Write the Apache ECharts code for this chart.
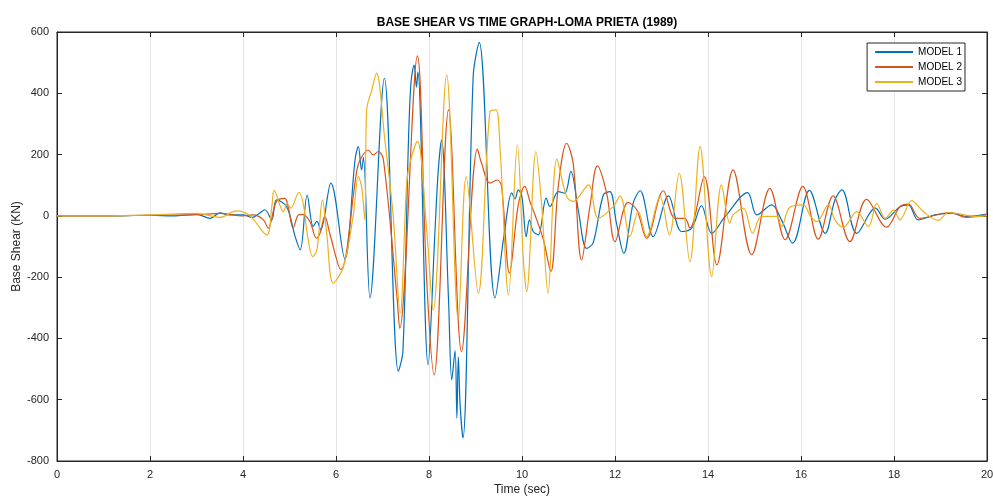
<!DOCTYPE html>
<html>
<head>
<meta charset="utf-8">
<script src="https://cdn.jsdelivr.net/npm/echarts@6/dist/echarts.min.js"></script>
<style>
  html, body { margin: 0; padding: 0; background: #fff; }
  #chart { width: 993px; height: 500px; }
</style>
</head>
<body>
<div id="chart"></div>
<script>
var seriesNames = ['MODEL 1', 'MODEL 2', 'MODEL 3'];
var xTicks = [0, 2, 4, 6, 8, 10, 12, 14, 16, 18, 20];
var yTicks = [-800, -600, -400, -200, 0, 200, 400, 600];

// MODEL 1 - time (sec) / base shear (KN)
var m1Time = [0, 1, 2, 2.5, 3, 3.3, 3.5, 3.7, 4.0, 4.2, 4.35, 4.47, 4.62, 4.72, 4.94, 5.12, 5.23, 5.38, 5.51, 5.59, 5.67, 5.89,
  6.19, 6.41, 6.48, 6.55, 6.59, 6.73, 7.04, 7.34, 7.44, 7.55, 7.61, 7.68, 7.73, 7.76, 7.98, 8.13, 8.2, 8.27,
  8.42, 8.49, 8.56, 8.6, 8.63, 8.67, 8.73, 8.95, 9.08, 9.42, 9.63, 9.78, 9.85, 9.92, 10.0,
  10.09, 10.16, 10.24, 10.35, 10.52, 10.6, 10.78, 10.92, 11.05, 11.21, 11.39, 11.53, 11.75, 11.89,
  12.03, 12.19, 12.39, 12.54, 12.82, 13.15, 13.43, 13.65, 13.86, 14.08, 14.37, 14.85, 15.05, 15.37,
  15.58, 15.82, 16.18, 16.52, 16.73, 16.88, 17.2, 17.6, 17.81, 18.13, 18.31, 18.52, 18.88, 19.24, 19.56, 20];
var m1Shear = [0, 0, 2, 0, 5, -8, 10, 3, 3, -5, 8, 20, -13, 52, 30, -67, -111, 68, -35, -18, -46, 107,
  -140, 183, 226, 150, 190, -268, 449, -508, -440, 200, 430, 492, 420, 470, -486, -46, 150, 248,
  -274, -535, -440, -660, -460, -620, -725, 455, 566, -268, -46, 75, 55, 85, 60,
  -68, -13, -51, -62, 58, 30, 79, 74, 145, 19, -106, -88, 69, 79,
  -23, -122, 41, 82, -68, 65, -51, -40, 33, -57, -2, 76, 3, 36,
  -13, -89, 83, -57, 52, 85, -57, 25, -11, 30, 36, -13, 3, 9, -2, 6];

// MODEL 2
var m2Time = [0, 1, 2, 3, 3.5, 4.0, 4.22, 4.44, 4.54, 4.72, 4.9, 4.97, 5.08, 5.19, 5.29, 5.44, 5.58, 5.66, 5.76, 5.87,
  6.1, 6.45, 6.52, 6.69, 6.8, 6.91, 7.02, 7.31, 7.37, 7.75, 7.95, 8.11, 8.42, 8.70, 9.04, 9.13, 9.31, 9.47, 9.56,
  9.73, 9.92, 10.06, 10.17, 10.28, 10.46, 10.62, 10.78, 10.96, 11.1, 11.28, 11.46, 11.62, 11.82, 12.0,
  12.28, 12.47, 12.68, 13.04, 13.29, 13.5, 13.61, 13.92, 14.19, 14.54, 14.94, 15.33, 15.66, 16.04, 16.37,
  16.69, 17.05, 17.41, 17.84, 18.13, 18.31, 18.56, 19.2, 19.56, 20];
var m2Shear = [0, 0, 2, 4, 8, 0, 3, -13, -40, 47, 57, 30, -40, 3, 5, -19, -73, -55, -2, -60,
  -175, 150, 183, 215, 199, 210, 183, -263, -367, 522, -209, -519, 346, -443, 218, 172, 107, 117, 96,
  -187, 36, 96, 47, 3, -78, -182, 96, 237, 172, -144, 30, 163, 74, -84,
  44, 19, -73, 82, -8, -8, -40, 128, -160, 150, -127, 90, -78, 96, -76,
  65, -84, 54, -37, 30, 38, -8, 11, -5, 3];

// MODEL 3
var m3Time = [0, 1, 2, 3, 3.5, 3.86, 4.15, 4.51, 4.62, 4.67, 4.87, 4.95, 5.03, 5.2, 5.3, 5.38, 5.5, 5.59, 5.71, 5.8,
  5.94, 6.16, 6.37, 6.48, 6.55, 6.62, 6.66, 6.77, 6.87, 7.05, 7.23, 7.38, 7.52, 7.59, 7.75, 7.95, 8.09,
  8.38, 8.63, 8.80, 9.06, 9.31, 9.44, 9.53, 9.71, 9.9, 10.03, 10.10, 10.30, 10.42, 10.56, 10.75, 10.96,
  11.1, 11.43, 11.64, 11.96, 12.11, 12.32, 12.5, 12.68, 12.97, 13.17, 13.38, 13.61, 13.83, 14.08, 14.29,
  14.47, 14.54, 14.76, 14.96, 15.15, 15.48, 15.58, 15.76, 16.05, 16.2, 16.34, 16.59, 16.73, 16.91, 17.2,
  17.45, 17.63, 17.81, 17.99, 18.13, 18.38, 18.63, 18.95, 19.17, 19.78, 20];
var m3Shear = [0, 0, 3, 8, -5, 16, 0, -62, 30, 83, 14, 40, 25, 77, 36, -57, -133, -110, 52, -57,
  -220, -166, 0, 128, 96, -13, 346, 411, 466, 248, 0, -317, 107, 173, 243, -46, -307,
  460, -340, 128, -252, 340, 346, 215, -258, 232, -144, -247, 210, 41, -252, 185, 63,
  47, 101, -8, 30, 65, -68, 14, -68, 63, -62, 139, -150, 226, -198, 101,
  -24, 3, 25, -57, -2, -2, -35, 28, 36, 0, -19, 36, -13, -37, 14,
  -35, 41, -8, 19, -13, 50, 14, -15, 11, -2, 0];

var colors = ['#0072BD', '#D95319', '#EDB120'];

function pairs(t, v) {
  var out = [];
  for (var i = 0; i < t.length; i++) out.push([t[i], v[i]]);
  return out;
}

var chartDom = document.getElementById('chart');
var myChart = echarts.init(chartDom);
var option;

var font = 'Liberation Sans, Arial, sans-serif';
var axisText = { color: '#262626', fontSize: 11, fontFamily: font };

option = {
  animation: false,
  backgroundColor: '#ffffff',
  title: {
    text: 'BASE SHEAR VS TIME GRAPH-LOMA PRIETA (1989)',
    left: 522,
    top: 12,
    textAlign: 'center',
    textStyle: { fontSize: 12, fontWeight: 'bold', color: '#000', fontFamily: font }
  },
  legend: {
    data: seriesNames,
    orient: 'vertical',
    right: 28,
    top: 43,
    itemWidth: 38,
    itemHeight: 2,
    itemGap: 5,
    padding: [4, 3, 4, 8],
    borderColor: '#262626',
    borderWidth: 1,
    backgroundColor: '#fff',
    icon: 'rect',
    textStyle: { fontSize: 10, color: '#000', fontFamily: font }
  },
  grid: {
    left: 57, right: 6, top: 32, bottom: 39,
    outerBoundsMode: 'none',
    containLabel: false,
    show: true, borderColor: '#262626', borderWidth: 1
  },
  xAxis: [{
    type: 'value',
    min: xTicks[0], max: xTicks[xTicks.length - 1], interval: 2,
    name: 'Time (sec)',
    nameLocation: 'middle',
    nameGap: 23,
    nameMoveOverlap: false,
    nameTextStyle: { fontSize: 12, color: '#262626', fontFamily: font },
    axisLine: { onZero: false, lineStyle: { color: '#262626' } },
    axisTick: { inside: true, length: 5, lineStyle: { color: '#262626' } },
    axisLabel: axisText,
    splitLine: { show: true, lineStyle: { color: '#e6e6e6' } }
  }, {
    type: 'value', position: 'top',
    min: xTicks[0], max: xTicks[xTicks.length - 1], interval: 2,
    axisLine: { onZero: false, lineStyle: { color: '#262626' } },
    axisTick: { inside: true, length: 5, lineStyle: { color: '#262626' } },
    axisLabel: { show: false },
    splitLine: { show: false }
  }],
  yAxis: [{
    type: 'value',
    min: yTicks[0], max: yTicks[yTicks.length - 1], interval: 200,
    name: 'Base Shear (KN)',
    nameLocation: 'middle',
    nameGap: 34,
    nameMoveOverlap: false,
    nameTextStyle: { fontSize: 12, color: '#262626', fontFamily: font },
    axisLine: { show: true, onZero: false, lineStyle: { color: '#262626' } },
    axisTick: { show: true, inside: true, length: 5, lineStyle: { color: '#262626' } },
    axisLabel: axisText,
    splitLine: { show: false }
  }, {
    type: 'value', position: 'right',
    min: yTicks[0], max: yTicks[yTicks.length - 1], interval: 200,
    axisLine: { show: true, onZero: false, lineStyle: { color: '#262626' } },
    axisTick: { show: true, inside: true, length: 5, lineStyle: { color: '#262626' } },
    axisLabel: { show: false },
    splitLine: { show: false }
  }],
  series: [
    { name: seriesNames[0], type: 'line', data: pairs(m1Time, m1Shear) },
    { name: seriesNames[1], type: 'line', data: pairs(m2Time, m2Shear) },
    { name: seriesNames[2], type: 'line', data: pairs(m3Time, m3Shear) }
  ].map(function (s, i) {
    s.showSymbol = false;
    s.smooth = 0.35;
    s.color = colors[i];
    s.lineStyle = { width: 1.2, color: colors[i] };
    return s;
  })
};

option && myChart.setOption(option);
</script>
</body>
</html>
